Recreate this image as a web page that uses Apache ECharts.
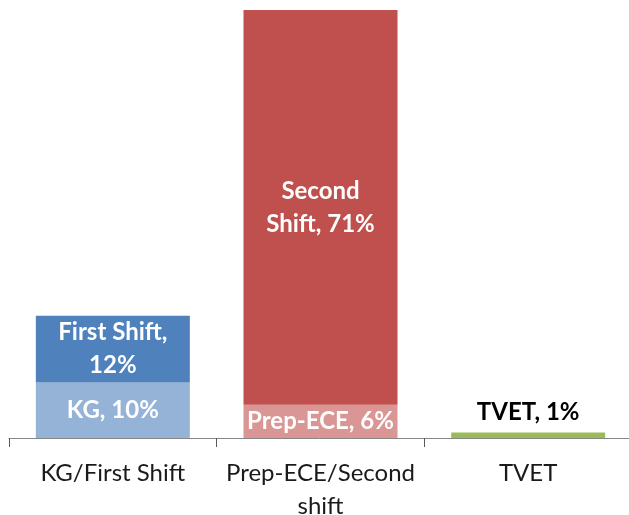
<!DOCTYPE html>
<html>
<head>
<meta charset="utf-8">
<script src="https://cdn.jsdelivr.net/npm/echarts@6/dist/echarts.min.js"></script>
<style>
html,body{margin:0;padding:0;background:#fff;}
#chart{width:629px;height:515px;}
</style>
</head>
<body>
<div id="chart"></div>
<script>
var categories = ['KG/First Shift', 'Prep-ECE/Second\nshift', 'TVET'];
var baseNames = ['KG', 'Prep-ECE', 'TVET'];
var baseValues = [10, 6, 1];
var shiftNames = ['First Shift,\n', 'Second\nShift, ', ''];
var shiftValues = [12, 71, null];
var baseColors = ['#95B3D7', '#DA9694', '#9BBB59'];
var shiftColors = ['#4F81BD', '#C0504D', '#4F81BD'];

var FONT = 'Lato';
var chart = echarts.init(document.getElementById('chart'), null, {renderer: 'canvas'});
chart.setOption({
  animation: false,
  grid: {left: 9, right: -3, top: 10, bottom: 77, outerBoundsMode: 'none', containLabel: false},
  xAxis: {
    type: 'category',
    data: categories,
    axisLine: {lineStyle: {color: '#868686', width: 1}},
    axisTick: {show: true, length: 9, lineStyle: {color: '#595959'}},
    axisLabel: {color: '#1a1a1a', fontFamily: FONT, fontSize: 24, lineHeight: 33, margin: 19, interval: 0}
  },
  yAxis: {
    type: 'value', min: 0, max: 77,
    show: false, splitLine: {show: false}
  },
  series: [
    {
      type: 'bar', stack: 's', barWidth: 154,
      data: baseValues.map(function (v, i) {
        return {
          value: v,
          itemStyle: {color: baseColors[i]},
          label: i === 2 ? {position: 'top', color: '#000', distance: 4} : {position: 'inside', color: '#fff'}
        };
      }),
      label: {
        show: true, fontFamily: FONT, fontWeight: 'bold', fontSize: 24, lineHeight: 33,
        formatter: function (p) { return baseNames[p.dataIndex] + ', ' + p.value + '%'; }
      }
    },
    {
      type: 'bar', stack: 's', barWidth: 154,
      data: shiftValues.map(function (v, i) {
        return {value: v, itemStyle: {color: shiftColors[i]}};
      }),
      label: {
        show: true, position: 'inside', color: '#fff',
        fontFamily: FONT, fontWeight: 'bold', fontSize: 24, lineHeight: 33,
        formatter: function (p) { return shiftNames[p.dataIndex] + p.value + '%'; }
      }
    }
  ]
});
</script>
</body>
</html>
